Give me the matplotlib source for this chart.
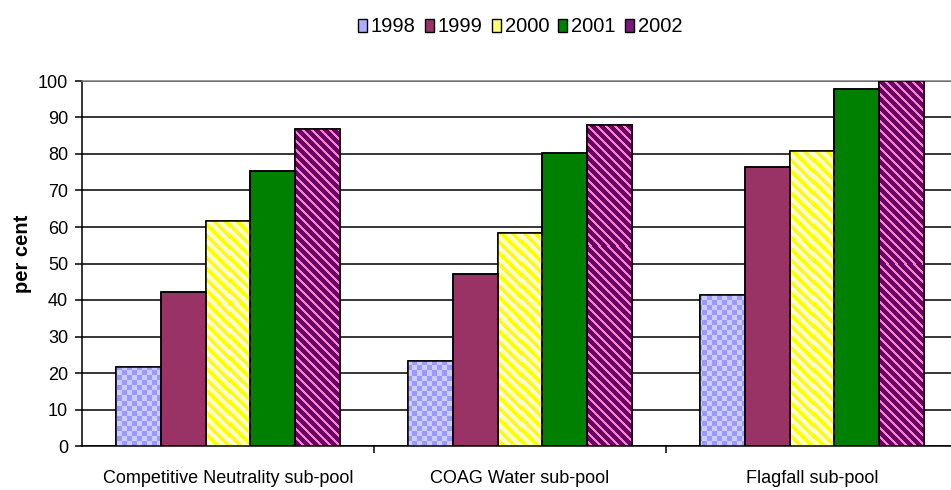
import numpy as np
import matplotlib
matplotlib.use('Agg')
import matplotlib.pyplot as plt
from matplotlib.colors import to_rgb
from matplotlib.patches import Rectangle

plt.rcParams['font.family'] = ['Liberation Sans', 'DejaVu Sans']

# share of each sub-pool, per cent
pools = ['Competitive Neutrality sub-pool', 'COAG Water sub-pool', 'Flagfall sub-pool']
years = ['1998', '1999', '2000', '2001', '2002']
pct_1998 = [21.7, 23.4, 41.4]
pct_1999 = [42.1, 47.0, 76.5]
pct_2000 = [61.7, 58.4, 80.9]
pct_2001 = [75.4, 80.4, 97.8]
pct_2002 = [86.8, 88.0, 100.0]
series = [pct_1998, pct_1999, pct_2000, pct_2001, pct_2002]
yticks = list(range(0, 101, 10))

# fill styles: (pattern, colour a, colour b)
styles = [
    ('check', '#9999FF', '#CCCCFF'),
    ('solid', '#993366', None),
    ('stripe11', '#FFFF00', '#FFFFCC'),
    ('solid', '#008000', None),
    ('stripe9', '#FF80C8', '#660066'),
]
legend_cols = ['#ADADFF', '#993366', '#FFFF70', '#008000', '#7A1A7A']


def make_pattern(kind, c1, c2, w, h):
    yy, xx = np.mgrid[0:h, 0:w]
    if kind == 'check':
        m = ((xx // 5) + (yy // 5)) % 2 == 0
    elif kind == 'stripe11':
        m = ((xx - yy) % 11) < 5
    else:
        m = ((xx - yy) % 9) < 3
    a = np.array(to_rgb(c1))
    b = np.array(to_rgb(c2))
    return np.where(m[..., None], a, b)


W, H = 951, 490
AW, AH = 876, 365
fig = plt.figure(figsize=(W / 100, H / 100), dpi=100)
ax = fig.add_axes([82 / W, 44 / H, AW / W, AH / H])
ax.set_xlim(-0.5, 2.5)
ax.set_ylim(0, 100)

bw = 1 / 6.5
x = np.arange(len(pools))
lw = 1.1

for i, vals in enumerate(series):
    kind, c1, c2 = styles[i]
    pos = x + (i - 2) * bw
    bars = ax.bar(pos, vals, bw, color=c1, edgecolor='black', lw=lw, zorder=3)
    if kind != 'solid':
        # one pixel-aligned texture over the whole plot, clipped to each bar
        tex = make_pattern(kind, c1, c2, AW, AH)
        for b in bars:
            im = ax.imshow(tex, extent=(-0.5, 2.5, 0, 100), aspect='auto',
                           interpolation='none', origin='upper', zorder=3.5)
            im.set_clip_path(b)
    ax.bar(pos, vals, bw, fill=False, edgecolor='black', lw=lw, zorder=4)

ax.set_xlim(-0.5, 2.5)
ax.set_ylim(0, 100)

# axes styling
ax.set_axisbelow(True)
ax.yaxis.grid(True, color='black', lw=lw)
ax.set_yticks(yticks)
ax.tick_params(axis='y', direction='out', length=5, width=lw, labelsize=13, pad=5)
ax.set_xticks(x)
ax.set_xticklabels(pools)
ax.set_xticks([0.5, 1.5], minor=True)
ax.tick_params(axis='x', which='major', length=0, labelsize=13, pad=17)
ax.tick_params(axis='x', which='minor', direction='out', length=5, width=lw)
ax.spines['top'].set_color('#808080')
ax.spines['top'].set_linewidth(lw)
ax.spines['left'].set_linewidth(lw)
ax.spines['bottom'].set_linewidth(lw)
ax.spines['right'].set_visible(False)

fig.text(22 / W, 1 - 254 / H, 'per cent', rotation=90, fontsize=14.5,
         fontweight='bold', ha='center', va='center')

handles = [Rectangle((0, 0), 1, 1, facecolor=c, edgecolor='black', lw=1.0)
           for c in legend_cols]
fig.legend(handles, years, loc='center', bbox_to_anchor=(520 / W, 1 - 27 / H),
           ncol=5, frameon=False, fontsize=14.5, handlelength=0.45, handleheight=0.65,
           handletextpad=0.2, columnspacing=0.45, borderaxespad=0, borderpad=0)

fig.savefig('out.png', dpi=100)
